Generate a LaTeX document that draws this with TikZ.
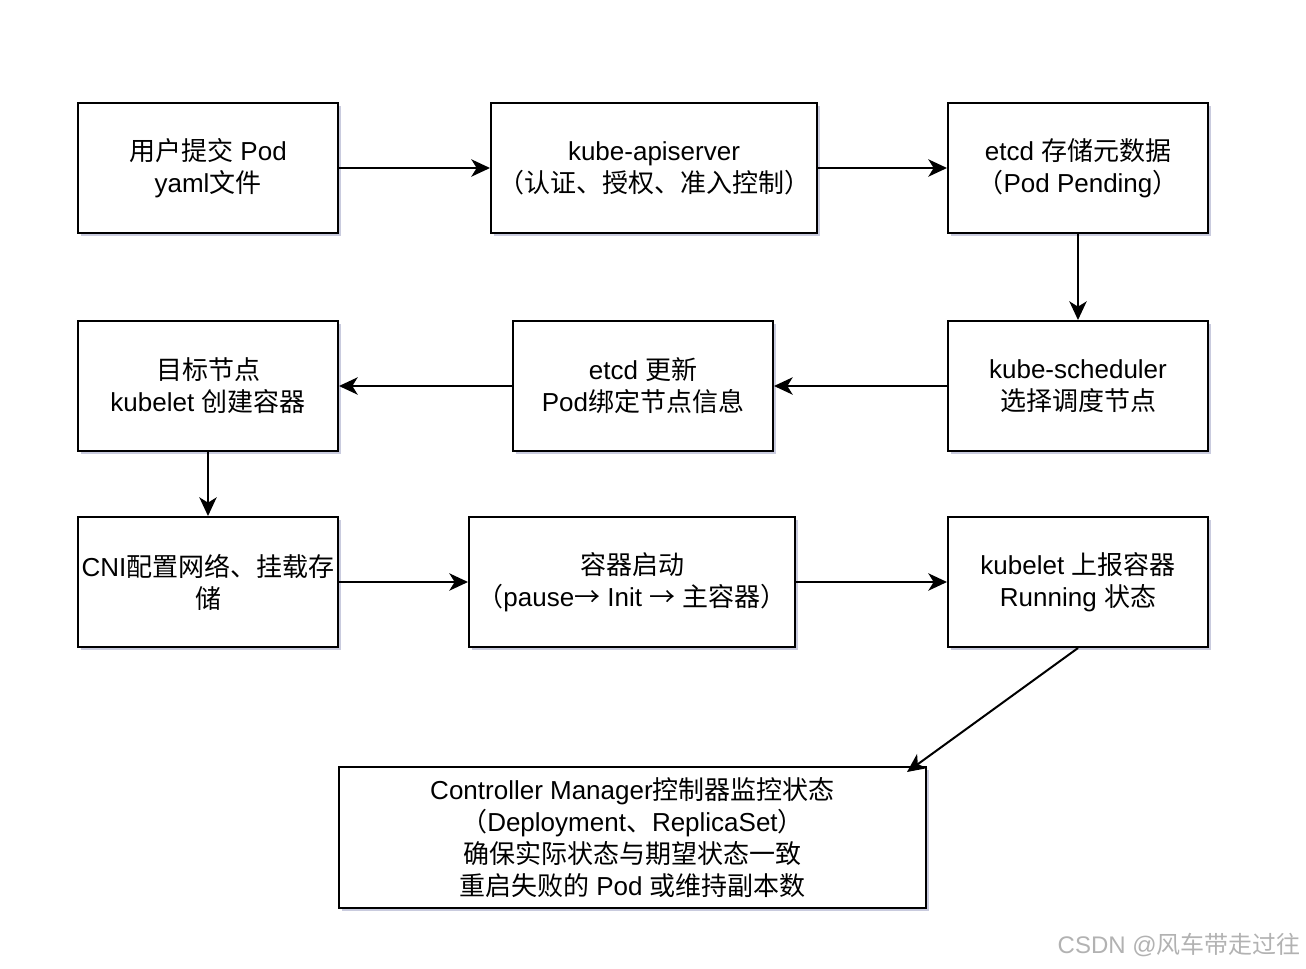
\documentclass[tikz,border=0pt]{standalone}
\usepackage{fontspec}
\setmainfont{Liberation Sans}
\newfontfamily\cjk{Noto Sans CJK SC}
\newcommand{\zh}[1]{{\cjk #1}}
\usetikzlibrary{arrows.meta,shadows}
\definecolor{ombre}{RGB}{165,168,200}
\begin{document}
\begin{tikzpicture}[x=0.75pt,y=-0.75pt]
	\tikzset{boite/.style={rectangle, draw=black, line width=1.5pt, fill=white, align=center, inner sep=0pt,
		minimum width=195pt, minimum height=97.5pt, font=\fontsize{19.5}{24}\selectfont,
		drop shadow={shadow xshift=2.5pt, shadow yshift=-2.5pt, fill=ombre, opacity=0.6}},
	large/.style={minimum width=244.5pt},
	fleche/.style={line width=1.5pt, -{Stealth[length=14pt, width=13pt, inset=4pt]}}};

	\useasboundingbox (0,0) rectangle (1306,968);

	% premiere ligne
	\node[boite] (soumission) at (208,168) {\zh{用户提交} Pod\\yaml\zh{文件}};
	\node[boite, large] (apiserver) at (654,168) {kube-apiserver\\\zh{（认证、授权、准入控制）}};
	\node[boite] (etcd) at (1078,168) {etcd \zh{存储元数据}\\\zh{（}Pod Pending\zh{）}};

	% deuxieme ligne
	\node[boite] (scheduler) at (1078,386) {kube-scheduler\\\zh{选择调度节点}};
	\node[boite] (liaison) at (643,386) {etcd \zh{更新}\\Pod\zh{绑定节点信息}};
	\node[boite] (kubelet) at (208,386) {\zh{目标节点}\\kubelet \zh{创建容器}};

	% troisieme ligne
	\node[boite] (cni) at (208,582) {CNI\zh{配置网络、挂载存}\\\zh{储}};
	\node[boite, large] (demarrage) at (632,582) {\zh{容器启动}\\\zh{（}pause\zh{→} Init \zh{→} \zh{主容器）}};
	\node[boite] (rapport) at (1078,582) {kubelet \zh{上报容器}\\Running \zh{状态}};

	\node[boite, minimum width=440.25pt, minimum height=105.75pt] (controleur) at (632.5,837.5)
		{Controller Manager\zh{控制器监控状态}\\\zh{（}Deployment\zh{、}ReplicaSet\zh{）}\\\zh{确保实际状态与期望状态一致}\\\zh{重启失败的} Pod \zh{或维持副本数}};

	\draw[fleche] (soumission) -- (apiserver);
	\draw[fleche] (apiserver) -- (etcd);
	\draw[fleche] (etcd) -- (scheduler);
	\draw[fleche] (scheduler) -- (liaison);
	\draw[fleche] (liaison) -- (kubelet);
	\draw[fleche] (kubelet) -- (cni);
	\draw[fleche] (cni) -- (demarrage);
	\draw[fleche] (demarrage) -- (rapport);
	\draw[fleche] (rapport.south) -- ([xshift=-15pt, yshift=-4.5pt]controleur.north east);

	\node[anchor=east, text=black!30, font=\fontsize{18}{22}\selectfont, inner sep=0pt] (filigrane) at (1301,945) {CSDN @\zh{风车带走过往}};
\end{tikzpicture}
\end{document}
